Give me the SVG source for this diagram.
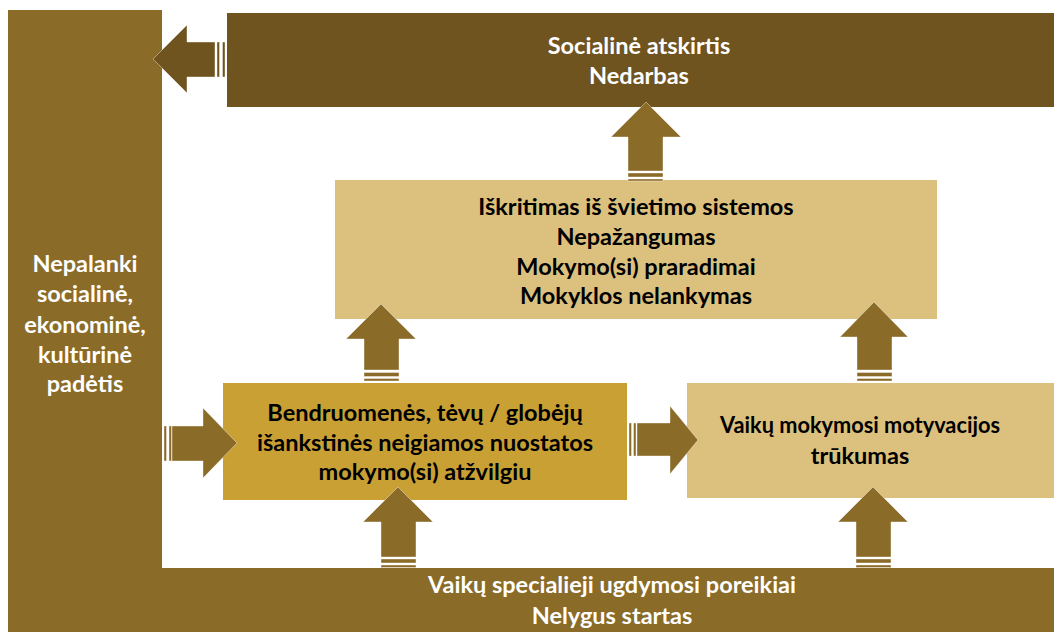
<svg xmlns="http://www.w3.org/2000/svg" width="1054" height="632" viewBox="0 0 1054 632">
<style>
.bar{fill:#8A6B28}
.top{fill:#6F5420}
.lt{fill:#DCC17E}
.md{fill:#C9A034}
.arr{fill:#8A6B28;stroke:#fff;stroke-width:0.4}
.arrd{fill:#6F5420;stroke:#fff;stroke-width:0.4}
text{font-family:Lato,"Liberation Sans",sans-serif;font-weight:bold;font-size:23.5px;text-anchor:middle}
.w{fill:#fff}
.k{fill:#000}
</style>
<rect width="1054" height="632" fill="#fff"/>
<g id="left-bar">
<rect class="bar" x="8" y="10" width="154" height="622"/>
<text class="w" x="85" y="272">Nepalanki</text>
<text class="w" x="85" y="302">socialinė,</text>
<text class="w" x="85" y="333">ekonominė,</text>
<text class="w" x="85" y="363">kultūrinė</text>
<text class="w" x="85" y="392">padėtis</text>
</g>
<g id="bottom-bar">
<rect class="bar" x="8" y="568" width="1046" height="64"/>
<text class="w" x="612" y="593">Vaikų specialieji ugdymosi poreikiai</text>
<text class="w" x="612" y="624">Nelygus startas</text>
</g>
<g id="top-bar">
<rect class="top" x="227" y="13" width="827" height="94"/>
<text class="w" x="639" y="54">Socialinė atskirtis</text>
<text class="w" x="639" y="84">Nedarbas</text>
</g>
<g id="middle-box">
<rect class="lt" x="335" y="180" width="602" height="139"/>
<text class="k" x="636" y="215">Iškritimas iš švietimo sistemos</text>
<text class="k" x="636" y="245">Nepažangumas</text>
<text class="k" x="636" y="275">Mokymo(si) praradimai</text>
<text class="k" x="636" y="304">Mokyklos nelankymas</text>
</g>
<g id="community-box">
<rect class="md" x="223" y="383" width="404" height="117"/>
<text class="k" x="425" y="421">Bendruomenės, tėvų / globėjų</text>
<text class="k" x="425" y="451">išankstinės neigiamos nuostatos</text>
<text class="k" x="425" y="480">mokymo(si) atžvilgiu</text>
</g>
<g id="motivation-box">
<rect class="lt" x="687" y="383" width="367" height="115"/>
<text class="k" x="860" y="433" textLength="280" lengthAdjust="spacingAndGlyphs">Vaikų mokymosi motyvacijos</text>
<text class="k" x="860" y="464">trūkumas</text>
</g>
<g id="connectors">
<g class="arrd">
<path d="M153,59 L187,25 L187,42 L215,42 L215,77 L187,77 L187,93 Z"/>
<rect x="217" y="42" width="2.5" height="35"/>
<rect x="222.5" y="42" width="2.5" height="35"/>
</g>
<g class="arr">
<path d="M646,102 L681,137 L663,137 L663,171 L628,171 L628,137 L611,137 Z"/>
<rect x="628" y="173" width="35" height="4"/>
<rect x="628" y="179" width="35" height="2"/>
</g>
<g class="arr">
<path d="M381,304 L416,339 L399,339 L399,370 L364,370 L364,339 L346,339 Z"/>
<rect x="364" y="372.5" width="35" height="4"/>
<rect x="364" y="378.5" width="35" height="2.5"/>
</g>
<g class="arr">
<path d="M874,302 L908,337 L892,337 L892,370 L857,370 L857,337 L840,337 Z"/>
<rect x="857" y="372.5" width="35" height="4"/>
<rect x="857" y="378.5" width="35" height="2.5"/>
</g>
<g class="arr">
<path d="M398,487 L433,522 L416,522 L416,557 L381,557 L381,522 L363,522 Z"/>
<rect x="381" y="559" width="35" height="4"/>
<rect x="381" y="565" width="35" height="2.5"/>
</g>
<g class="arr">
<path d="M873,487 L908,522 L891,522 L891,557 L856,557 L856,522 L838,522 Z"/>
<rect x="856" y="559" width="35" height="4"/>
<rect x="856" y="565" width="35" height="2.5"/>
</g>
<g class="arr">
<path d="M237,443 L203,408 L203,426 L172,426 L172,461 L203,461 L203,478 Z"/>
<rect x="164" y="426" width="2.5" height="35"/>
<rect x="169" y="426" width="2.5" height="35"/>
</g>
<g class="arr">
<path d="M698,440 L670,406 L670,423 L637,423 L637,456 L670,456 L670,474 Z"/>
<rect x="629" y="423" width="2.5" height="33"/>
<rect x="633.5" y="423" width="2.5" height="33"/>
</g>
</g>
</svg>
